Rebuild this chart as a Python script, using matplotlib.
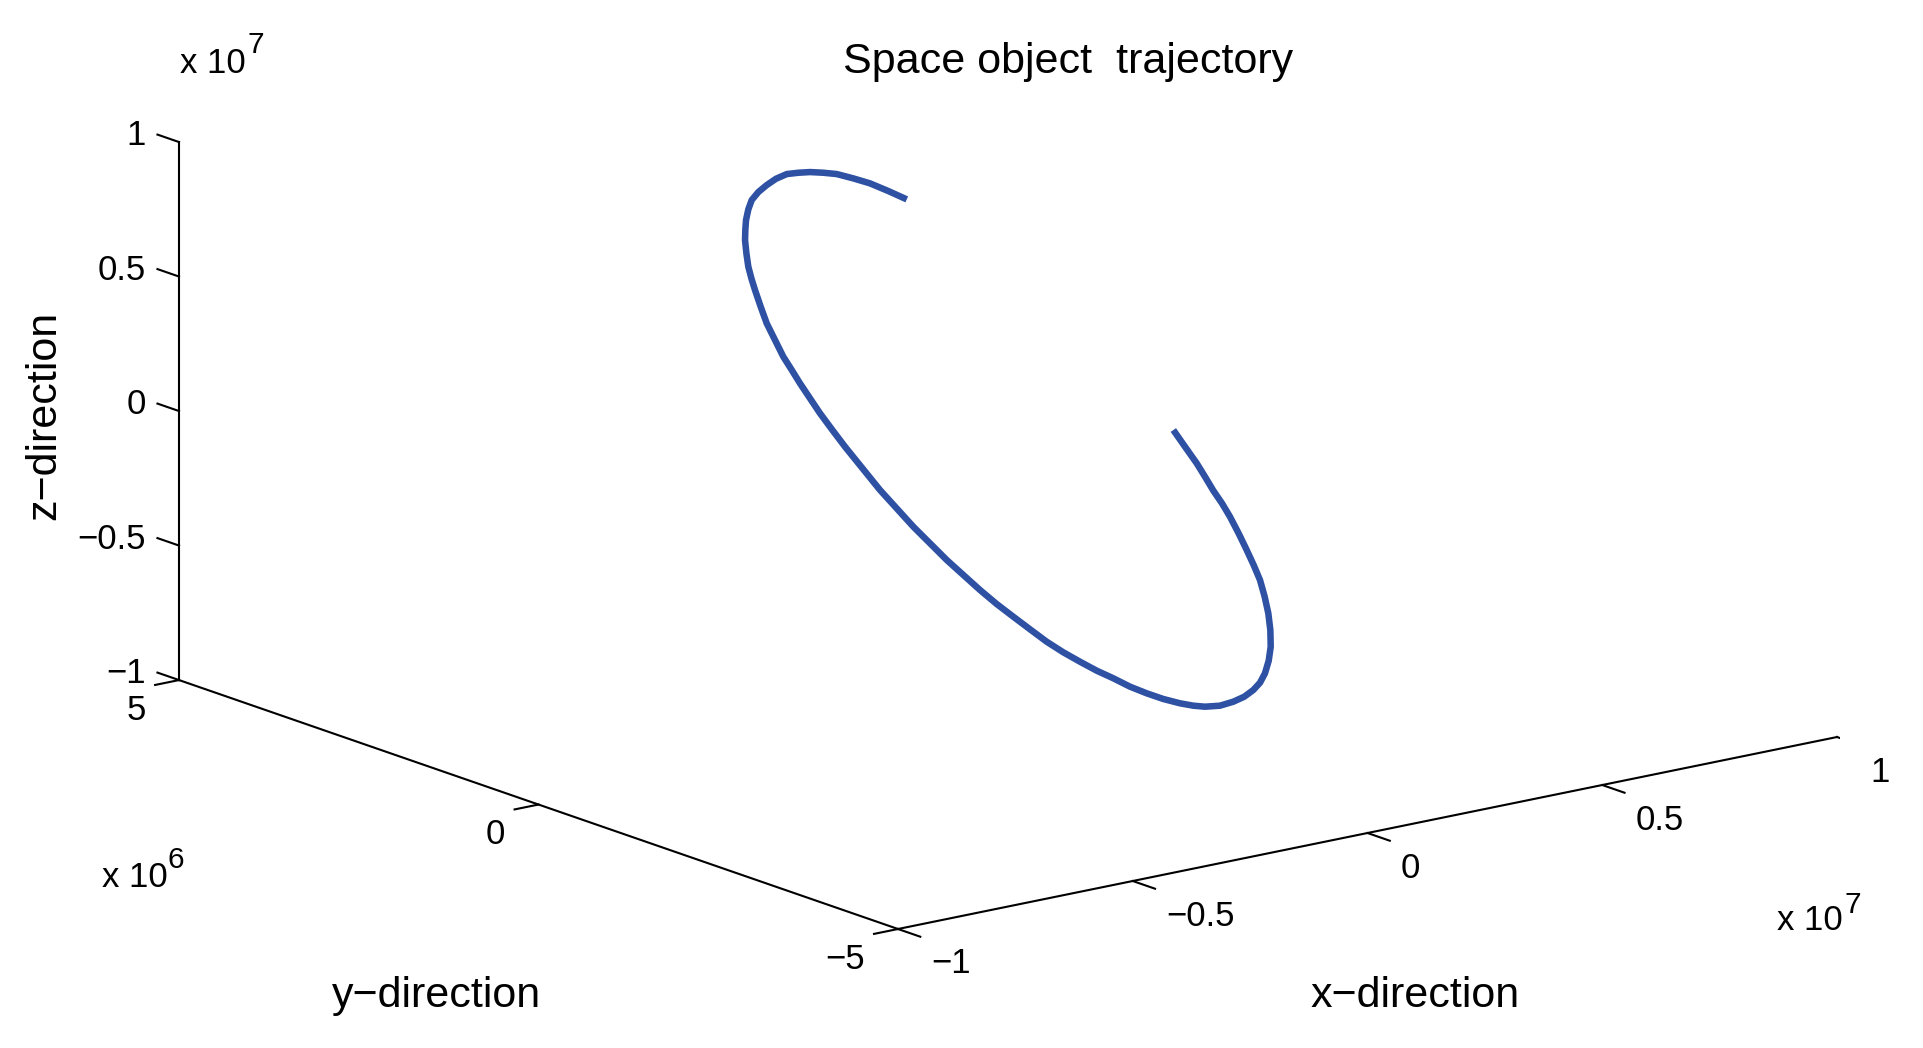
import numpy as np
import matplotlib
matplotlib.use("Agg")
import matplotlib.pyplot as plt
from mpl_toolkits.mplot3d import proj3d

plt.rcParams['font.family'] = ['Liberation Sans', 'DejaVu Sans']

# trajectory (units of 1e6 m)
orbit_x = [4.583, 4.224, 3.846, 3.434, 3.002, 2.582, 2.141, 1.712, 1.263, 0.733,
           0.196, -0.332, -0.833, -1.265, -1.706, -2.067, -2.416, -2.819, -3.202, -3.489,
           -3.755, -4.121, -4.472, -4.747, -5.022, -5.179, -5.339, -5.498, -5.655, -5.790,
           -5.913, -6.157, -6.196, -6.237, -6.217, -6.199, -6.127, -6.053, -5.946, -5.796,
           -5.641, -5.478, -5.258, -4.995, -4.717, -4.396, -4.098, -3.741, -3.355, -2.920,
           -2.536, -2.165, -1.609, -1.012, -0.459, 0.079, 0.559, 1.049, 1.603, 2.145,
           2.696, 3.189, 3.624, 4.024, 4.310, 4.574, 4.857, 5.117, 5.290, 5.437,
           5.598, 5.761, 5.915, 6.071]
orbit_y = [4.401, 4.423, 4.431, 4.394, 4.343, 4.254, 4.152, 4.034, 3.902, 3.705,
           3.484, 3.256, 3.021, 2.786, 2.530, 2.304, 2.080, 1.798, 1.521, 1.291,
           1.067, 0.749, 0.436, 0.141, -0.154, -0.374, -0.593, -0.836, -1.078, -1.338,
           -1.594, -2.240, -2.497, -2.756, -2.975, -3.196, -3.380, -3.563, -3.725, -3.858,
           -3.990, -4.115, -4.203, -4.263, -4.314, -4.335, -4.373, -4.372, -4.351, -4.299,
           -4.234, -4.154, -3.999, -3.794, -3.586, -3.360, -3.140, -2.889, -2.579, -2.253,
           -1.888, -1.538, -1.203, -0.877, -0.602, -0.333, -0.036, 0.254, 0.478, 0.695,
           0.916, 1.137, 1.401, 1.665]
orbit_z = [3.220, 3.637, 4.050, 4.416, 4.779, 5.060, 5.337, 5.574, 5.807, 6.005,
           6.166, 6.305, 6.404, 6.429, 6.426, 6.393, 6.352, 6.262, 6.158, 6.041,
           5.910, 5.715, 5.512, 5.262, 5.013, 4.778, 4.543, 4.267, 3.990, 3.658,
           3.318, 2.393, 1.964, 1.535, 1.113, 0.691, 0.278, -0.136, -0.545, -0.947,
           -1.350, -1.752, -2.145, -2.532, -2.917, -3.295, -3.678, -4.053, -4.422, -4.785,
           -5.071, -5.315, -5.619, -5.874, -6.077, -6.230, -6.333, -6.391, -6.407, -6.383,
           -6.296, -6.175, -6.022, -5.847, -5.646, -5.432, -5.188, -4.931, -4.703, -4.482,
           -4.227, -3.993, -3.674, -3.354]

x_lim = (-1e7, 1e7)
y_lim = (-5e6, 5e6)
z_lim = (-1e7, 1e7)
x_ticks = [-1e7, -0.5e7, 0, 0.5e7, 1e7]
x_tick_labels = ['\u22121', '\u22120.5', '0', '0.5', '1']
y_ticks = [-5e6, 0, 5e6]
y_tick_labels = ['\u22125', '0', '5']
z_ticks = [-1e7, -0.5e7, 0, 0.5e7, 1e7]
z_tick_labels = ['\u22121', '\u22120.5', '0', '0.5', '1']

W, H = 1923, 1048
fig = plt.figure(figsize=(W / 100, H / 100), dpi=100)
ax = fig.add_axes([0, 0, 1, 1], projection='3d', proj_type='ortho')
ax.view_init(elev=15.43, azim=-127.54)
ax.set_box_aspect((1, 0.9964, 0.4713))
ax.set_xlim(x_lim)
ax.set_ylim(y_lim)
ax.set_zlim(z_lim)
ax.set_axis_off()

x0, x1 = x_lim
y0, y1 = y_lim
z0, z1 = z_lim
k = dict(color='black', lw=1.5)

# matlab style axis lines
ax.plot(x_lim, [y0, y0], [z0, z0], **k)
ax.plot([x0, x0], y_lim, [z0, z0], **k)
ax.plot([x0, x0], [y1, y1], z_lim, **k)

for xt, lab in zip(x_ticks, x_tick_labels):
    ax.plot([xt, xt], [y0, y0 - 3.1e5], [z0, z0], **k)
    ax.text(xt, y0 - 4.66e5, z0 - 1.223e6, lab, ha='left', va='baseline', fontsize=25)
for yt, lab in zip(y_ticks, y_tick_labels):
    ax.plot([x0, x0 - 5.1e5], [yt, yt], [z0, z0], **k)
    ax.text(x0 - 7.09e5, yt, z0 - 1.226e6, lab, ha='right', va='baseline', fontsize=25)
for zt, lab in zip(z_ticks, z_tick_labels):
    ax.plot([x0, x0], [y1, y1 + 3.0e5], [zt, zt], **k)
    ax.text(x0, y1 + 4.59e5, zt - 5.36e5, lab, ha='right', va='baseline', fontsize=25)

# the trajectory
ax.plot(np.array(orbit_x) * 1e6, np.array(orbit_y) * 1e6, np.array(orbit_z) * 1e6,
        color='#2E51A3', lw=4.7, solid_capstyle='butt', solid_joinstyle='round')


def to_px(x, y, z):
    xs, ys, _ = proj3d.proj_transform(x, y, z, ax.get_proj())
    return np.array(ax.transData.transform((float(xs), float(ys))))


# move/scale the axes so the box corners land where they are in the picture
t0 = np.array([898, H - 929])
t1 = np.array([1837, H - 737])
for _ in range(2):
    fig.canvas.draw()
    p0 = to_px(x0, y0, z0)
    p1 = to_px(x1, y0, z0)
    f = np.linalg.norm(t1 - t0) / np.linalg.norm(p1 - p0)
    bb = ax.bbox
    new0 = t0 - f * (p0 - np.array([bb.x0, bb.y0]))
    ax.set_position([new0[0] / W, new0[1] / H, f * bb.width / W, f * bb.height / H])

fig.text(1068 / W, 1 - 73.3 / H, 'Space object  trajectory', ha='center', va='baseline', fontsize=31)
fig.text(1415 / W, 1 - 1006.7 / H, 'x\u2212direction', ha='center', va='baseline', fontsize=31)
fig.text(436 / W, 1 - 1006.7 / H, 'y\u2212direction', ha='center', va='baseline', fontsize=31)
fig.text(55 / W, 1 - 415.7 / H, 'z\u2212direction', rotation=90, rotation_mode='anchor',
         ha='center', va='baseline', fontsize=31)

# exponent labels
fig.text(180 / W, 1 - 72.7 / H, 'x 10', ha='left', va='baseline', fontsize=25)
fig.text(247.5 / W, 1 - 53.3 / H, '7', ha='left', va='baseline', fontsize=21.5)
fig.text(101.7 / W, 1 - 886.7 / H, 'x 10', ha='left', va='baseline', fontsize=25)
fig.text(167.5 / W, 1 - 868.3 / H, '6', ha='left', va='baseline', fontsize=21.5)
fig.text(1776.7 / W, 1 - 930 / H, 'x 10', ha='left', va='baseline', fontsize=25)
fig.text(1844 / W, 1 - 913.3 / H, '7', ha='left', va='baseline', fontsize=21.5)

fig.savefig('out.png', dpi=100)
